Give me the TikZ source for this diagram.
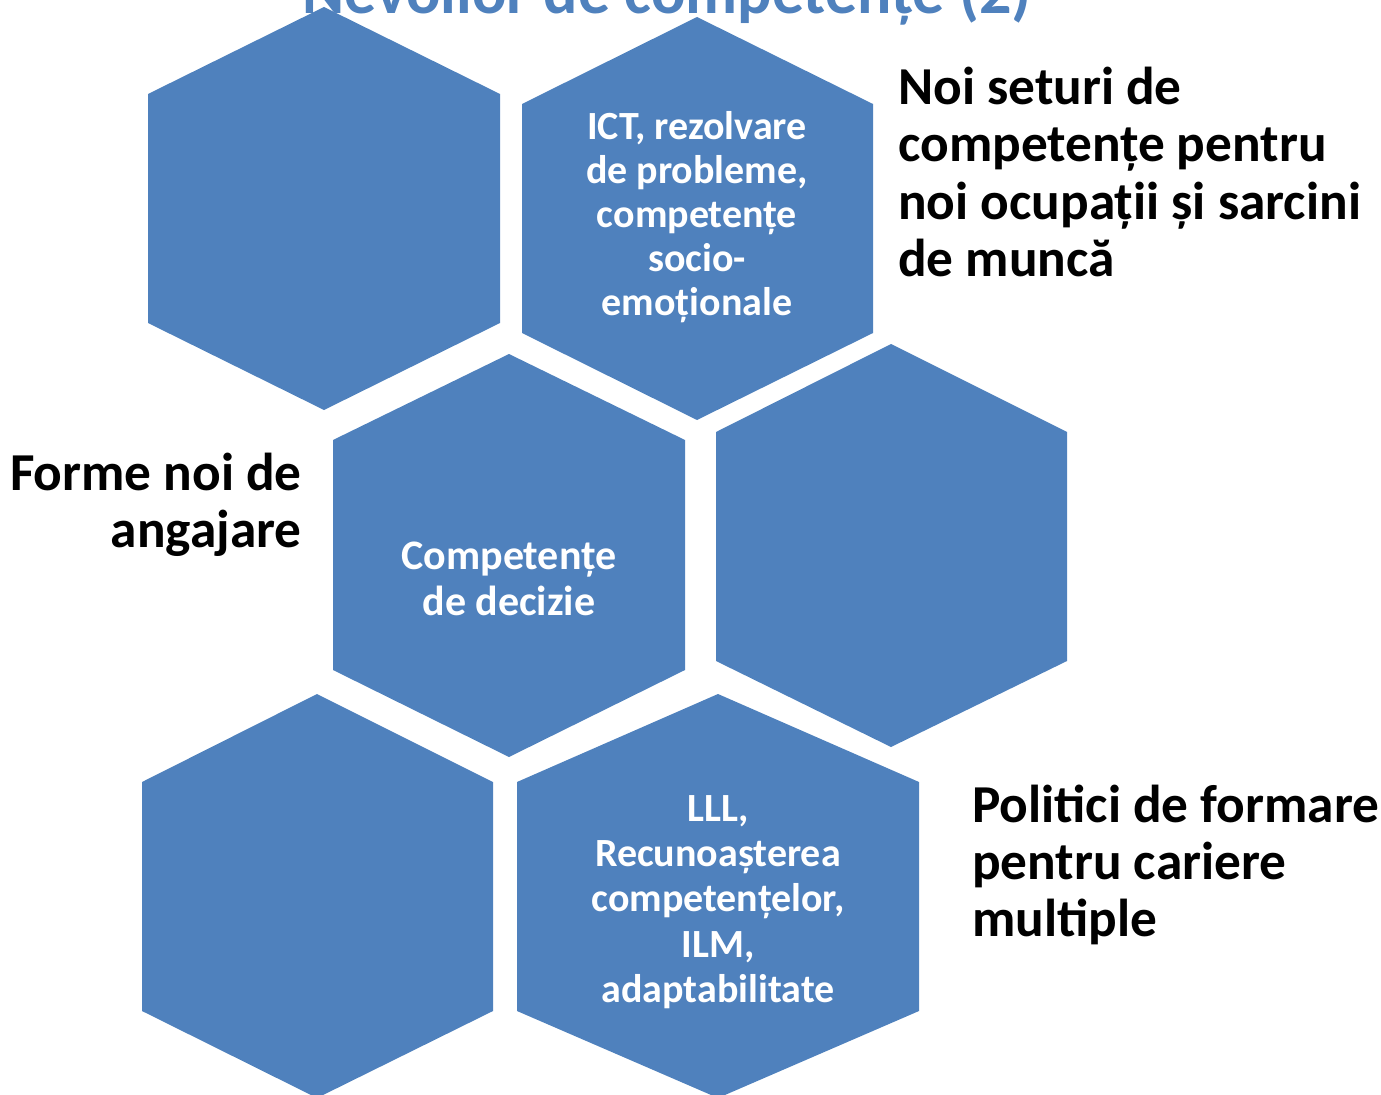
\documentclass[tikz,border=0pt]{standalone}
\usepackage{fontspec}
\setmainfont{Carlito}

\begin{document}
\begin{tikzpicture}[x=0.75pt,y=0.75pt,yscale=-1,xscale=1,
  hexcell/.style={draw opacity=0,fill={rgb, 255:red, 79; green, 129; blue, 189},fill opacity=1},
  hextext/.style={inner sep=0pt,align=center,text=white,font=\bfseries\fontsize{30}{33}\selectfont},
  sidetext/.style={inner sep=0pt,text=black,font=\bfseries\fontsize{40}{43}\selectfont}]
%set diagram size, the title is cut at the top
\useasboundingbox (0,0) rectangle (1381,1095);
\clip (0,0) rectangle (1381,1095);

% Text Node: title
\node (title) [anchor=base,inner sep=0pt,text={rgb, 255:red, 79; green, 129; blue, 189},font=\bfseries\fontsize{48}{52}\selectfont] at (667,14) {Nevoilor de competențe (2)};

%Shape: Hexagon top left
\draw  [hexcell] (324,7) -- (500,94) -- (500,323) -- (324,410) -- (148,323) -- (148,94) -- cycle ;
%Shape: Hexagon top middle
\draw  [hexcell] (697,17) -- (873,104) -- (873,333) -- (697,420) -- (522,333) -- (522,104) -- cycle ;
%Shape: Hexagon centre
\draw  [hexcell] (509,354) -- (685,440) -- (685,670) -- (509,757) -- (333,670) -- (333,440) -- cycle ;
%Shape: Hexagon middle right
\draw  [hexcell] (891,344) -- (1067,432) -- (1067,661) -- (891,747) -- (716,661) -- (716,432) -- cycle ;
%Shape: Hexagon bottom left
\draw  [hexcell] (317,694) -- (493,782) -- (493,1011) -- (317,1098) -- (142,1011) -- (142,782) -- cycle ;
%Shape: Hexagon bottom middle
\draw  [hexcell] (718,694) -- (919,782) -- (919,1011) -- (718,1098) -- (517,1011) -- (517,782) -- cycle ;

% Text Node
\node (ict) [hextext] at (697,217) {ICT, rezolvare\\de probleme,\\competențe\\socio-\\emoționale};
% Text Node
\node (decizie) [hextext,font=\bfseries\fontsize{31.5}{34}\selectfont] at (509,579) {Competențe\\de decizie};
% Text Node
\node (lll) [hextext,font=\bfseries\fontsize{30}{34}\selectfont] at (718,902) {LLL,\\Recunoașterea\\competențelor,\\ILM,\\adaptabilitate};

% Text Node
\node (seturi) [sidetext,anchor=west,align=left] at (898,172) {Noi seturi de\\competențe pentru\\noi ocupații și sarcini\\de muncă};
% Text Node
\node (angajare) [sidetext,anchor=east,align=right] at (302,505) {Forme noi de\\angajare};
% Text Node
\node (politici) [sidetext,anchor=west,align=left] at (972,865) {Politici de formare\\pentru cariere\\multiple};

\end{tikzpicture}
\end{document}
